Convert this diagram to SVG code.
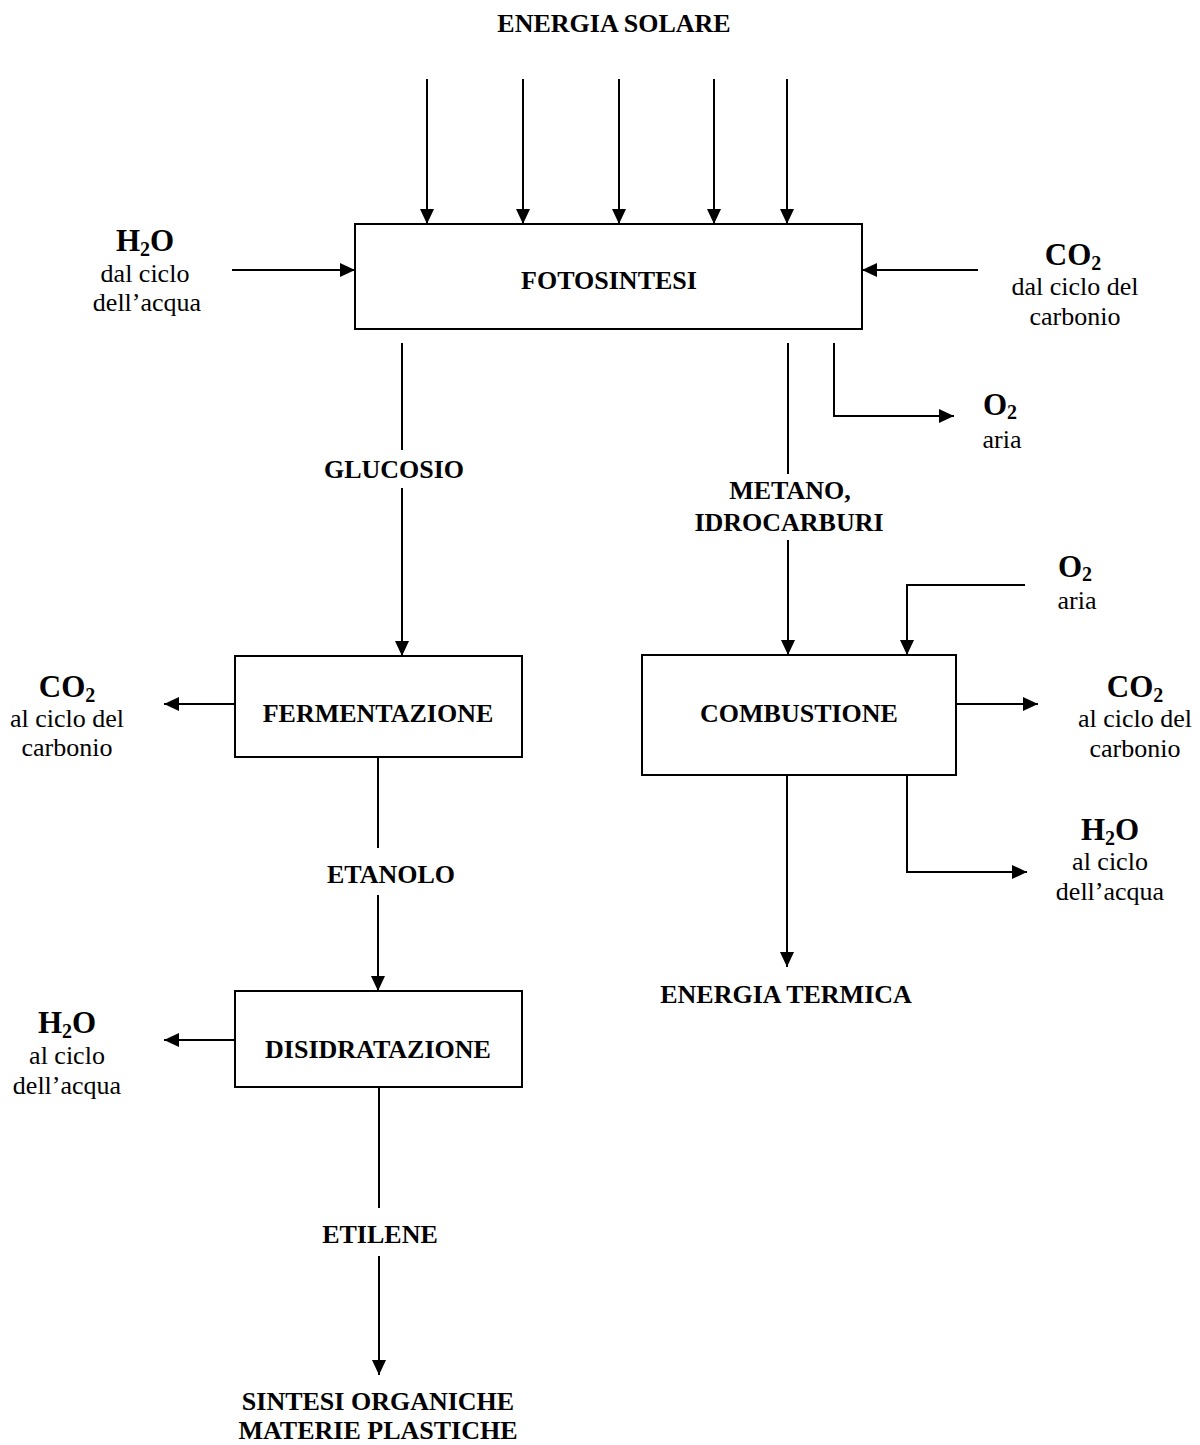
<svg xmlns="http://www.w3.org/2000/svg" width="1200" height="1445" viewBox="0 0 1200 1445">
<style>
text{font-family:"Liberation Serif","Times New Roman",serif;fill:#000;text-anchor:middle}
.lbl{font-size:26px;font-weight:bold}
.hd{font-size:31px;font-weight:bold}
.sub{font-size:20px}
.ds{font-size:26px}
.box{fill:#fff;stroke:#000;stroke-width:2}
.c{fill:none;stroke:#000;stroke-width:2}
.a{marker-end:url(#ah)}
</style>
<defs>
<marker id="ah" markerUnits="userSpaceOnUse" markerWidth="16" markerHeight="14" refX="15" refY="7" orient="auto">
<path d="M0,0 L15,7 L0,14 Z" fill="#000"/>
</marker>
</defs>
<rect width="1200" height="1445" fill="#fff"/>
<g id="connectors">
<path class="c a" d="M427,79 V224"/>
<path class="c a" d="M523,79 V224"/>
<path class="c a" d="M619,79 V224"/>
<path class="c a" d="M714,79 V224"/>
<path class="c a" d="M787,79 V224"/>
<path class="c a" d="M232,270 H355"/>
<path class="c a" d="M978,270 H862"/>
<path class="c" d="M402,343 V450"/>
<path class="c a" d="M402,488 V656"/>
<path class="c a" d="M834,343 V416 H954"/>
<path class="c" d="M788,343 V474"/>
<path class="c a" d="M788,540 V655"/>
<path class="c a" d="M1025,585 H907 V655"/>
<path class="c a" d="M235,704 H164"/>
<path class="c a" d="M956,704 H1038"/>
<path class="c" d="M378,757 V848"/>
<path class="c a" d="M378,895 V991"/>
<path class="c a" d="M787,775 V967"/>
<path class="c a" d="M907,775 V872 H1027"/>
<path class="c a" d="M235,1040 H164"/>
<path class="c" d="M379,1087 V1208"/>
<path class="c a" d="M379,1256 V1375"/>
</g>
<g id="energia-solare"><text class="lbl" x="614" y="32">ENERGIA SOLARE</text></g>
<g id="fotosintesi"><rect class="box" x="355" y="224" width="507" height="105"/><text class="lbl" x="609" y="289">FOTOSINTESI</text></g>
<g id="h2o-in"><text class="hd" x="145" y="251">H<tspan class="sub" dy="5">2</tspan><tspan dy="-5">O</tspan></text><text class="ds" x="145" y="282">dal ciclo</text><text class="ds" x="147" y="311">dell’acqua</text></g>
<g id="co2-in"><text class="hd" x="1073" y="265">CO<tspan class="sub" dy="5">2</tspan></text><text class="ds" x="1075" y="295">dal ciclo del</text><text class="ds" x="1075" y="325">carbonio</text></g>
<g id="o2-out"><text class="hd" x="1000" y="415">O<tspan class="sub" dy="4">2</tspan></text><text class="ds" x="1002" y="448">aria</text></g>
<g id="glucosio"><text class="lbl" x="394" y="478">GLUCOSIO</text></g>
<g id="metano"><text class="lbl" x="790" y="499">METANO,</text><text class="lbl" x="789" y="531">IDROCARBURI</text></g>
<g id="o2-in"><text class="hd" x="1075" y="577">O<tspan class="sub" dy="4">2</tspan></text><text class="ds" x="1077" y="609">aria</text></g>
<g id="fermentazione"><rect class="box" x="235" y="656" width="287" height="101"/><text class="lbl" x="378" y="722">FERMENTAZIONE</text></g>
<g id="co2-ferm"><text class="hd" x="67" y="697">CO<tspan class="sub" dy="5">2</tspan></text><text class="ds" x="67" y="727">al ciclo del</text><text class="ds" x="67" y="756">carbonio</text></g>
<g id="combustione"><rect class="box" x="642" y="655" width="314" height="120"/><text class="lbl" x="799" y="722">COMBUSTIONE</text></g>
<g id="co2-comb"><text class="hd" x="1135" y="697">CO<tspan class="sub" dy="5">2</tspan></text><text class="ds" x="1135" y="727">al ciclo del</text><text class="ds" x="1135" y="757">carbonio</text></g>
<g id="h2o-comb"><text class="hd" x="1110" y="840">H<tspan class="sub" dy="5">2</tspan><tspan dy="-5">O</tspan></text><text class="ds" x="1110" y="870">al ciclo</text><text class="ds" x="1110" y="900">dell’acqua</text></g>
<g id="energia-termica"><text class="lbl" x="786" y="1003">ENERGIA TERMICA</text></g>
<g id="etanolo"><text class="lbl" x="391" y="883">ETANOLO</text></g>
<g id="disidratazione"><rect class="box" x="235" y="991" width="287" height="96"/><text class="lbl" x="378" y="1058">DISIDRATAZIONE</text></g>
<g id="h2o-dis"><text class="hd" x="67" y="1033">H<tspan class="sub" dy="5">2</tspan><tspan dy="-5">O</tspan></text><text class="ds" x="67" y="1064">al ciclo</text><text class="ds" x="67" y="1094">dell’acqua</text></g>
<g id="etilene"><text class="lbl" x="380" y="1243">ETILENE</text></g>
<g id="sintesi"><text class="lbl" x="378" y="1410">SINTESI ORGANICHE</text><text class="lbl" x="378" y="1439">MATERIE PLASTICHE</text></g>
</svg>
